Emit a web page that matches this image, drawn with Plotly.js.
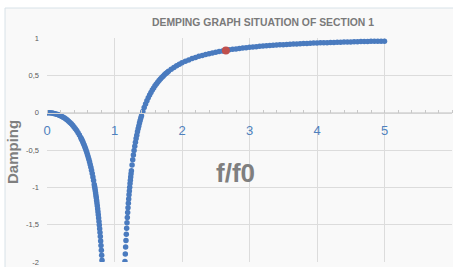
<!DOCTYPE html>
<html>
<head>
<meta charset="utf-8">
<script src="https://cdn.plot.ly/plotly-3.0.1.min.js"></script>
<style>html,body{margin:0;padding:0;background:#fff;}#chart{width:453px;height:267px;}</style>
</head>
<body>
<div id="chart"></div>
<script>
// f/f0 values and damping
const ratioLeft = [0,0.02,0.04,0.06,0.08,0.10,0.12,0.14,0.16,0.18,0.20,0.22,0.24,0.26,0.28,0.30,0.32,0.34,0.36,0.38,0.40,0.42,0.44,0.46,0.48,0.50,
  0.51,0.52,0.53,0.54,0.55,0.56,0.57,0.58,0.59,0.60,0.61,0.62,0.63,0.64,0.65,0.66,0.67,0.68,0.69,0.70,
  0.705,0.71,0.715,0.72,0.725,0.73,0.735,0.74,0.745,0.75,0.755,0.76,0.765,0.77,0.775,0.78,0.785,0.79,0.795,0.80,0.805,0.81,0.815,0.82];
const dampLeft = [0,0,-0.002,-0.004,-0.006,-0.010,-0.015,-0.020,-0.026,-0.034,-0.042,-0.051,-0.061,-0.073,-0.085,-0.099,-0.114,-0.131,-0.149,-0.169,-0.191,-0.214,-0.240,-0.268,-0.299,-0.333,
  -0.352,-0.371,-0.391,-0.412,-0.434,-0.457,-0.481,-0.507,-0.534,-0.563,-0.593,-0.624,-0.658,-0.694,-0.732,-0.772,-0.815,-0.860,-0.909,-0.961,
  -0.988,-1.017,-1.046,-1.076,-1.108,-1.141,-1.175,-1.210,-1.247,-1.286,-1.326,-1.367,-1.411,-1.456,-1.504,-1.554,-1.606,-1.660,-1.718,-1.778,-1.841,-1.908,-1.978,-2.05];
const ratioRight = [1.155,1.16,1.165,1.17,1.175,1.18,1.185,1.19,1.195,1.20,1.205,1.21,1.215,1.22,1.225,1.23,1.235,1.24,1.245,1.25,
  1.26,1.27,1.28,1.29,1.30,1.31,1.32,1.33,1.34,1.35,1.36,1.37,1.38,1.39,1.40,
  1.42,1.44,1.46,1.48,1.50,1.52,1.54,1.56,1.58,1.60,1.62,1.64,1.66,1.68,1.70,1.72,1.74,1.76,1.78,1.80,
  1.84,1.88,1.92,1.96,2.00,2.05,2.10,2.15,2.20,2.25,2.30,2.35,2.40,2.45,2.50,2.55,2.60,2.65,2.70,2.75,2.80,2.85,2.90,2.95,
  3.00,3.05,3.10,3.15,3.20,3.25,3.30,3.35,3.40,3.45,3.50,3.55,3.60,3.65,3.70,3.75,3.80,3.85,3.90,3.95,
  4.00,4.05,4.10,4.15,4.20,4.25,4.30,4.35,4.40,4.45,4.50,4.55,4.60,4.65,4.70,4.75,4.80,4.85,4.90,4.95,5.00];
const dampRight = [-1.994,-1.894,-1.799,-1.711,-1.627,-1.548,-1.474,-1.403,-1.336,-1.273,-1.212,-1.155,-1.100,-1.048,-0.998,-0.950,-0.904,-0.860,-0.818,-0.778,
  -0.702,-0.632,-0.566,-0.506,-0.449,-0.396,-0.347,-0.301,-0.257,-0.216,-0.177,-0.140,-0.106,-0.073,-0.042,
  0.016,0.069,0.116,0.160,0.200,0.237,0.271,0.302,0.332,0.359,0.384,0.408,0.430,0.451,0.471,0.489,0.507,0.523,0.539,0.554,
  0.581,0.605,0.628,0.648,0.667,0.688,0.707,0.724,0.740,0.754,0.767,0.779,0.790,0.800,0.810,0.818,0.826,0.834,0.841,0.848,0.854,0.860,0.865,0.870,
  0.875,0.880,0.884,0.888,0.892,0.895,0.899,0.902,0.905,0.908,0.911,0.914,0.916,0.919,0.921,0.923,0.926,0.928,0.930,0.932,
  0.933,0.935,0.937,0.938,0.940,0.941,0.943,0.944,0.946,0.947,0.948,0.949,0.950,0.952,0.953,0.954,0.955,0.956,0.957,0.957,0.958];
const pointRatio = [2.65];
const pointDamp = [0.834];
const yTickVals = [1,0.5,0,-0.5,-1,-1.5,-2];
const yTickText = ['1','0,5','0','-0,5','-1','-1,5','-2'];
const xTickVals = [0,1,2,3,4,5,6];
const xTickText = ['0','1','2','3','4','5','6'];

const blue = '#4a7bbf';
const data = [
  {x: ratioLeft.concat([null]).concat(ratioRight), y: dampLeft.concat([null]).concat(dampRight),
   type:'scatter', mode:'markers', marker:{color:blue, size:5.5}, hoverinfo:'skip', showlegend:false},
  {x: pointRatio, y: pointDamp, type:'scatter', mode:'markers',
   marker:{color:'#c0504d', size:8}, showlegend:false}
];
const PL=47, PT=38, PW=405, PH=224;
const px = v => (v-PL)/PW, py = v => (PT+PH-v)/PH;
const layout = {
  width:453, height:267,
  margin:{l:47, r:1, t:38, b:5, pad:0},
  paper_bgcolor:'#ffffff', plot_bgcolor:'rgba(0,0,0,0)',
  font:{family:'Liberation Sans, Arial, sans-serif'},
  showlegend:false,
  title:{text:'DEMPING GRAPH SITUATION OF SECTION 1', font:{size:10.4, color:'#7a7a7a', weight:700},
         x:263/453, xanchor:'center', y:1-22/267, yanchor:'middle'},
  xaxis:{range:[0,6], anchor:'free', position:2/3, showline:true, linecolor:'#d4d4d4', linewidth:1,
         showgrid:true, gridcolor:'#dcdcdc', gridwidth:1, zeroline:false,
         tickvals:xTickVals, ticktext:xTickText, ticks:'', ticklabelstandoff:6,
         tickfont:{size:13, color:'#4f81bd'},
         minor:{dtick:0.2, tick0:0, ticks:'inside', ticklen:3, tickcolor:'#c8c8c8', showgrid:false}},
  yaxis:{range:[-2,1], showgrid:true, gridcolor:'#dcdcdc', gridwidth:1, zeroline:false, showline:false,
         tickvals:yTickVals, ticktext:yTickText, ticks:'', ticklabelstandoff:7, ticklabeloverflow:'allow',
         tickfont:{size:7.5, color:'#595959'}},
  shapes:[
    {type:'rect', xref:'paper', yref:'paper', x0:px(5), x1:px(470), y0:py(290), y1:py(8),
     fillcolor:'#f9f9f9', line:{color:'#d8e2e8', width:1}, layer:'below'}
  ],
  annotations:[
    {text:'Damping', xref:'paper', yref:'paper', x:px(12), y:py(152), textangle:-90, showarrow:false,
     font:{size:15, color:'#7f7f7f', weight:700}, xanchor:'center', yanchor:'middle'},
    {text:'f/f0', xref:'paper', yref:'paper', x:px(235), y:py(173), showarrow:false,
     font:{size:26, color:'#7f7f7f', weight:700}, xanchor:'center', yanchor:'middle'}
  ]
};
Plotly.newPlot('chart', data, layout, {staticPlot:true, displayModeBar:false});
</script>
</body>
</html>
